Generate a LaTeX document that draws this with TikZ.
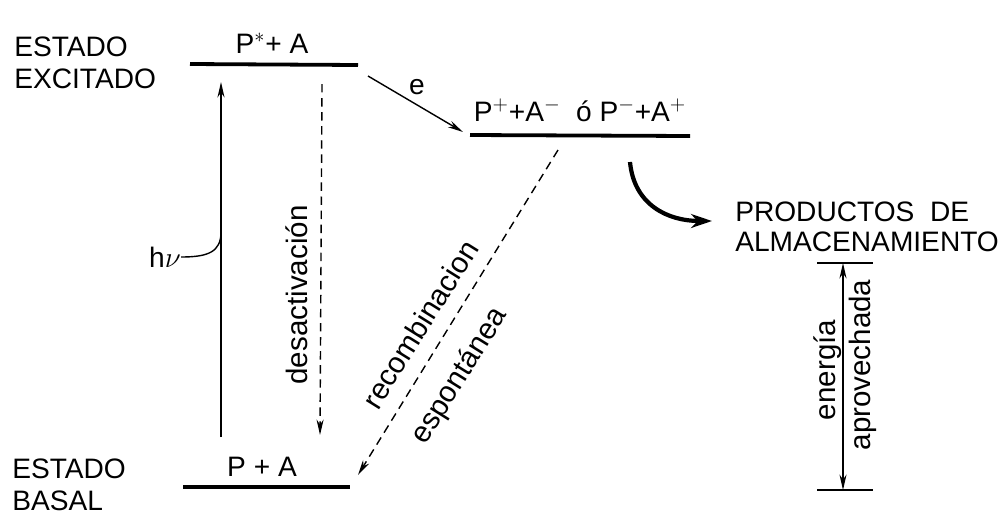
\documentclass[tikz,border=0pt]{standalone}
\usepackage{fontspec}
\setmainfont{Liberation Sans}
\usetikzlibrary{arrows.meta}

\begin{document}
\begin{tikzpicture}[
  x=0.025cm, y=-0.025cm,
  every node/.style={font=\fontsize{20}{23}\selectfont, inner sep=0pt},
  lbl/.style={font=\fontsize{21}{25}\selectfont},
  level/.style={line width=2.7pt},
  trans/.style={line width=1pt, -{Stealth[length=11pt,width=5pt]}},
  dashtrans/.style={trans, dash pattern=on 6pt off 4pt},
  storage/.style={line width=3pt, -{Stealth[length=15pt,width=10pt]}},
  tick/.style={line width=1.6pt}
]
\useasboundingbox (0,0) rectangle (1006,515);

% levels
\node[anchor=west, align=left] (exc) at (14,63) {ESTADO\\EXCITADO};
\node[anchor=west, align=left] (bas) at (12,485) {ESTADO\\BASAL};
\coordinate (exL) at (190,64);
\coordinate (exR) at (358,65);
\coordinate (ctL) at (470,135);
\coordinate (ctR) at (690,136);
\coordinate (gsL) at (183,487);
\coordinate (gsR) at (350,487);
\draw[level] (exL) -- (exR);
\draw[level] (ctL) -- (ctR);
\draw[level] (gsL) -- (gsR);
\node (pexc) at (272,43) {P$^{*}$+ A};
\node (pct) at (580,110) {P$^{+}$+A$^{-}$\ \ ó P$^{-}$+A$^{+}$};
\node (pgs) at (262,467) {P + A};

% absorption and deactivation
\coordinate (hvB) at (221,437);
\coordinate (hvT) at (221,82);
\draw[trans] (hvB) -- (hvT);
\node (hnu) at (165,257) {h$\nu$};
\draw[line width=1pt] (hnu.east) .. controls (208,257) and (221,252) .. (221,232);
\coordinate (deT) at (322,84);
\coordinate (deB) at (320,435);
\draw[dashtrans] (deT) -- (deB);
\node[lbl, rotate=90] (deact) at (297,295) {desactivación};

% electron transfer and recombination
\coordinate (eA) at (368,76);
\coordinate (eB) at (463,132);
\draw[trans] (eA) -- (eB);
\node (elab) at (417,87) {e};
\coordinate (rcT) at (558,150);
\coordinate (rcB) at (358,475);
\draw[dashtrans] (rcT) -- (rcB);
\node[lbl, rotate=58] (recomb) at (420,324) {recombinacion};
\node[lbl, rotate=58] (espont) at (460,376) {espontánea};

% storage
\coordinate (stA) at (630,162);
\coordinate (stB) at (712,221);
\draw[storage] (stA) .. controls (634,205) and (668,221) .. (stB);
\node[anchor=west, align=left, font=\fontsize{20}{21.5}\selectfont] (prod) at (735,227) {PRODUCTOS\ \ DE\\ALMACENAMIENTO};
\coordinate (enTL) at (817,263);
\coordinate (enTR) at (873,263);
\coordinate (enBL) at (817,490);
\coordinate (enBR) at (873,490);
\coordinate (enT) at (843,263);
\coordinate (enB) at (843,490);
\draw[tick] (enTL) -- (enTR);
\draw[tick] (enBL) -- (enBR);
\draw[line width=1pt, {Stealth[length=11pt,width=5pt]}-{Stealth[length=11pt,width=5pt]}] (enT) -- (enB);
\node[lbl, rotate=90] (energ) at (828,370) {energía};
\node[lbl, rotate=90] (aprov) at (863,365) {aprovechada};
\end{tikzpicture}
\end{document}
